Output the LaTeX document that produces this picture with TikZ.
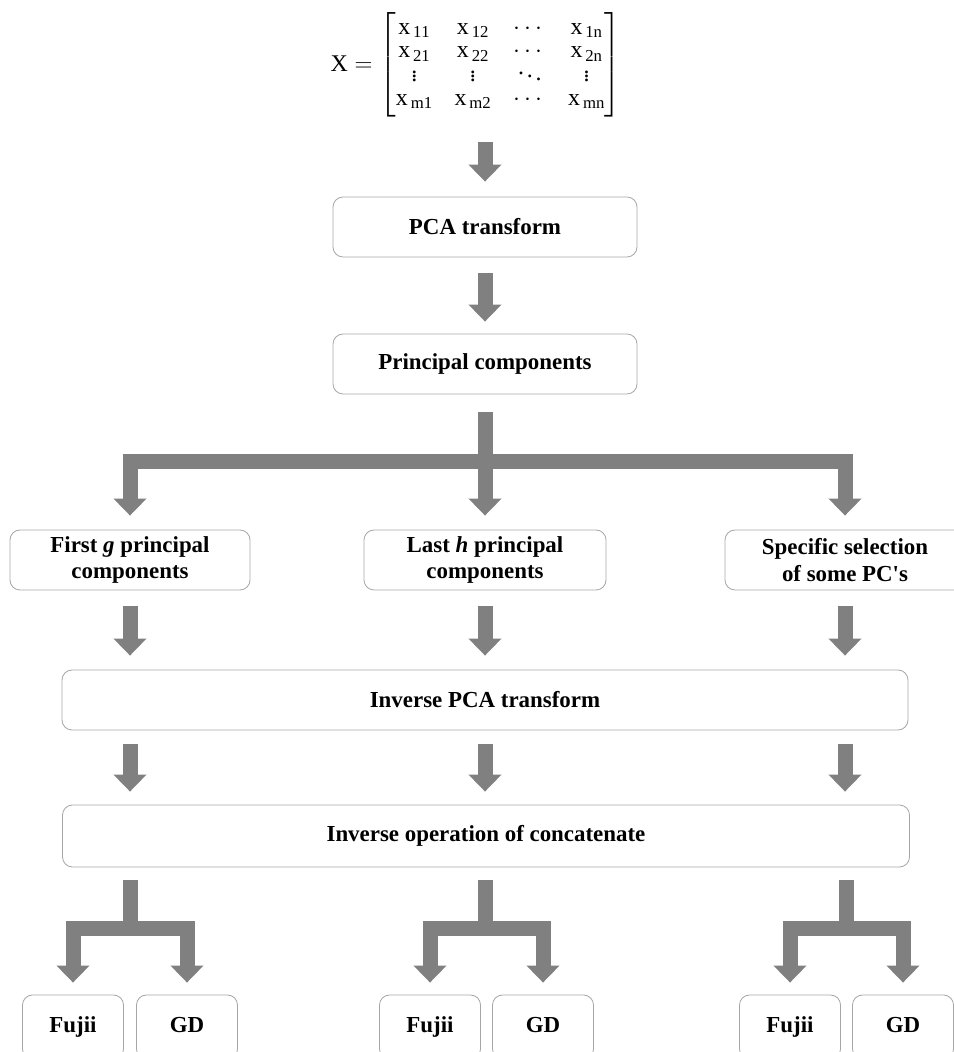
\documentclass[tikz,border=0pt]{standalone}
\usepackage{amsmath}
\usepackage{fontspec}
\setmainfont{Liberation Serif}
\usetikzlibrary{arrows.meta,positioning}
\definecolor{arrowgray}{RGB}{128,128,128}
\definecolor{boxgray}{RGB}{166,166,166}
\newcommand{\mx}[1]{\mathrm{x}_{\,\mathrm{#1}}}

\begin{document}
\begin{tikzpicture}[>={Triangle[width=32bp,length=17bp]}]
  \tikzstyle{every node}=[font=\fontsize{23}{27}\selectfont\bfseries]
  \tikzstyle{box}=[draw=boxgray, line width=0.8bp, rounded corners=10bp, align=center, inner sep=0pt]
  \tikzstyle{leaf}=[box, minimum width=101bp, minimum height=64bp, text height=16bp, text depth=5bp]
  \tikzstyle{blk}=[draw=arrowgray, line width=15bp, ->]
  \tikzstyle{bar}=[draw=arrowgray, line width=15bp]
  \useasboundingbox (0bp,0bp) rectangle (954bp,1052bp);
  \clip (0bp,0bp) rectangle (954bp,1052bp);
  %%
  \node (mat) at (476bp,987bp) [font=\fontsize{24}{27}\selectfont, inner sep=0pt] {$\mathrm{X} = \setlength{\arraycolsep}{11pt}\renewcommand{\arraystretch}{0.88}\begin{bmatrix} \mx{11} & \mx{12} & \cdots & \mx{1n} \\ \mx{21} & \mx{22} & \cdots & \mx{2n} \\ \vdots & \vdots & \ddots & \vdots \\ \mx{m1} & \mx{m2} & \cdots & \mx{mn} \end{bmatrix}$};
  \node (pca) at (485bp,825bp) [box, minimum width=304bp, minimum height=60bp] {PCA transform};
  \node (pc) at (485bp,688bp) [box, minimum width=304bp, minimum height=60bp] {Principal components};
  \node (first) at (130bp,492bp) [box, minimum width=240bp, minimum height=60bp] {First \textit{g} principal\\components};
  \node (last) at (485bp,492bp) [box, minimum width=242bp, minimum height=60bp] {Last \textit{h} principal\\components};
  \node (spec) at (845bp,492bp) [box, minimum width=240bp, minimum height=60bp] {Specific selection\\of some PC\textquotesingle s};
  \node (inv) at (485bp,352bp) [box, minimum width=846bp, minimum height=60bp] {Inverse PCA transform};
  \node (ops) at (486bp,216bp) [box, minimum width=847bp, minimum height=62bp] {Inverse operation of concatenate};
  \node (fuj1) at (73bp,25bp) [leaf] {Fujii};
  \node (gd1) at (187bp,25bp) [leaf] {GD};
  \node (fuj2) at (430bp,25bp) [leaf] {Fujii};
  \node (gd2) at (543bp,25bp) [leaf] {GD};
  \node (fuj3) at (790bp,25bp) [leaf] {Fujii};
  \node (gd3) at (903bp,25bp) [leaf] {GD};
  \coordinate (j0) at (485bp,590bp);
  \coordinate (j1) at (130bp,123bp);
  \coordinate (j2) at (485bp,123bp);
  \coordinate (j3) at (846bp,123bp);
  %%
  \draw [blk] ([yshift=-25bp]pca.north |- mat.south) -- ([yshift=15bp]pca.north);
  \draw [blk] ([yshift=-16bp]pca.south) -- ([yshift=12bp]pc.north);
  \draw [bar] ([yshift=-18bp]pc.south) -- (j0);
  \draw [blk] (j0) -| ([yshift=14bp]first.north);
  \draw [blk] (j0) -- ([yshift=14bp]last.north);
  \draw [blk] (j0) -| ([yshift=14bp]spec.north);
  \draw [blk] ([yshift=-16bp]first.south) -- ([yshift=14bp]first.south |- inv.north);
  \draw [blk] ([yshift=-16bp]last.south) -- ([yshift=14bp]last.south |- inv.north);
  \draw [blk] ([yshift=-16bp]spec.south) -- ([yshift=14bp]spec.south |- inv.north);
  \draw [blk] ([yshift=-14bp]first.south |- inv.south) -- ([yshift=13bp]first.south |- ops.north);
  \draw [blk] ([yshift=-14bp]last.south |- inv.south) -- ([yshift=13bp]last.south |- ops.north);
  \draw [blk] ([yshift=-14bp]spec.south |- inv.south) -- ([yshift=13bp]spec.south |- ops.north);
  \draw [bar] ([yshift=-13bp]j1 |- ops.south) -- (j1);
  \draw [blk] (j1) -| ([yshift=12bp]fuj1.north);
  \draw [blk] (j1) -| ([yshift=12bp]gd1.north);
  \draw [bar] ([yshift=-13bp]j2 |- ops.south) -- (j2);
  \draw [blk] (j2) -| ([yshift=12bp]fuj2.north);
  \draw [blk] (j2) -| ([yshift=12bp]gd2.north);
  \draw [bar] ([yshift=-13bp]j3 |- ops.south) -- (j3);
  \draw [blk] (j3) -| ([yshift=12bp]fuj3.north);
  \draw [blk] (j3) -| ([yshift=12bp]gd3.north);
%
\end{tikzpicture}
\end{document}
